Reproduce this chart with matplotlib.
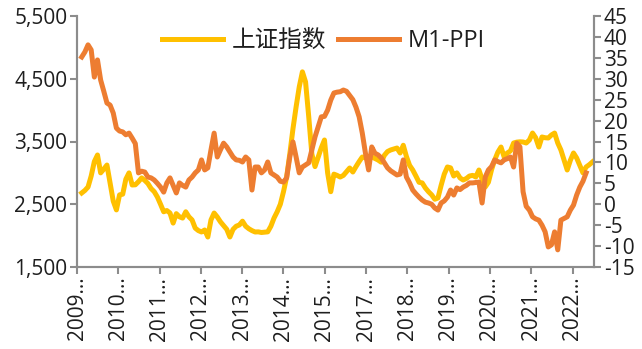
import numpy as np
import matplotlib
matplotlib.use("Agg")
import matplotlib.pyplot as plt

plt.rcParams['font.family'] = ['Open Sans', 'Noto Sans CJK SC', 'DejaVu Sans']
plt.rcParams['axes.unicode_minus'] = False

# monthly data, starting mid-2009
sse = [2680, 2720, 2775, 2950, 3180, 3285, 3000, 3060, 3125, 2840,
       2550, 2410, 2650, 2660, 2900, 3000, 2807, 2810, 2860, 2920,
       2880, 2830, 2750, 2700, 2615, 2500, 2380, 2400, 2360, 2200,
       2350, 2300, 2280, 2380, 2300, 2250, 2120, 2080, 2058, 2090,
       1978, 2250, 2360, 2297, 2220, 2160, 2100, 1978, 2100, 2150,
       2170, 2230, 2150, 2110, 2080, 2058, 2060, 2050, 2055, 2060,
       2150, 2280, 2380, 2500, 2700, 2934, 3300, 3700, 4050, 4370,
       4610, 4450, 3900, 3300, 3100, 3250, 3400, 3524, 3000, 2700,
       2980, 2960, 2934, 2960, 3020, 3078, 3014, 3100, 3180, 3253,
       3240, 3260, 3253, 3230, 3205, 3170, 3280, 3340, 3365, 3380,
       3396, 3317, 3440, 3260, 3120, 3046, 2950, 2850, 2840, 2760,
       2700, 2650, 2580, 2600, 2800, 2980, 3094, 3080, 2950, 3000,
       2920, 2886, 2910, 2950, 2960, 2934, 3046, 2900, 2775, 2850,
       3050, 3205, 3330, 3412, 3253, 3317, 3350, 3476, 3490, 3495,
       3492, 3476, 3524, 3635, 3560, 3412, 3572, 3560, 3556, 3604,
       3635, 3476, 3365, 3205, 3046, 3200, 3317, 3237, 3120, 3000,
       3094, 3130, 3174]

m1_ppi = [35.2, 36.4, 38.1, 36.9, 30.4, 34.5, 29.7, 27.0, 24.2, 23.7,
          21.8, 18.2, 17.5, 17.3, 16.6, 17.0, 15.8, 14.5, 7.5, 7.9,
          7.7, 6.5, 6.3, 5.8, 5.0, 4.1, 2.9, 5.1, 6.3, 4.5,
          2.7, 5.1, 4.5, 4.1, 5.8, 6.5, 7.5, 8.2, 10.6, 8.2,
          8.7, 13.0, 17.0, 11.3, 13.0, 14.6, 13.7, 12.5, 11.3, 10.6,
          10.5, 10.1, 11.3, 10.6, 3.4, 8.9, 8.9, 7.5, 8.2, 10.1,
          7.5, 7.0, 6.5, 5.5, 5.3, 6.3, 11.3, 14.9, 11.3, 7.5,
          8.9, 9.4, 9.9, 13.0, 16.1, 18.5, 20.9, 21.0, 22.5, 24.9,
          26.6, 26.8, 26.9, 27.3, 27.0, 26.0, 25.0, 23.2, 20.9, 17.0,
          12.2, 8.2, 13.7, 12.2, 11.8, 11.1, 9.9, 8.7, 8.0, 7.5,
          7.0, 7.2, 10.6, 6.5, 5.1, 3.4, 2.5, 1.7, 1.0, 0.5,
          0.3, 0.0, -0.9, -1.4, 0.3, 0.8, 1.7, 3.4, 2.2, 3.9,
          3.5, 4.1, 4.5, 5.1, 5.1, 5.2, 5.3, 0.3, 6.5, 8.2,
          9.0, 10.6, 10.2, 9.9, 10.6, 10.9, 11.3, 8.9, 14.6, 13.7,
          3.0, -0.5, -1.4, -3.0, -3.5, -3.8, -5.0, -6.6, -10.2, -9.7,
          -6.6, -10.9, -3.8, -3.4, -3.0, -1.4, -0.2, 2.2, 4.1, 5.5,
          7.5, np.nan, np.nan]

year_labels = ['2009…', '2010…', '2011…', '2012…', '2013…', '2014…', '2015…',
               '2017…', '2018…', '2019…', '2020…', '2021…', '2022…']

yellow = '#FFC000'
orange = '#ED7D31'
spine_col = '#8C8C8C'
text_col = '#1E1E1E'

x = np.arange(len(sse))

fig = plt.figure(figsize=(6.42, 3.49), dpi=100)
ax = fig.add_axes([77/642, 1-267/349, (594-77)/642, (267-16)/349])
ax2 = ax.twinx()

l1, = ax.plot(x, sse, color=yellow, lw=3.6, solid_joinstyle='round', label='上证指数')
l2, = ax2.plot(x, m1_ppi, color=orange, lw=3.6, solid_joinstyle='round', label='M1-PPI')

ax.set_xlim(-1.5, 162.5)
ax.set_ylim(1500, 5500)
ax2.set_ylim(-15, 45)

ax.set_yticks(np.arange(1500, 5501, 1000))
ax.set_yticklabels([f'{v:,}' for v in range(1500, 5501, 1000)])
ax2.set_yticks(np.arange(-15, 46, 5))

ax.set_xticks(-1.5 + 13.1*np.arange(len(year_labels)))
ax.set_xticklabels(year_labels, rotation=90)

for a in (ax, ax2):
    a.spines['top'].set_visible(False)
    for s in ('left', 'right', 'bottom'):
        a.spines[s].set_color(spine_col)
        a.spines[s].set_linewidth(1.5)
    a.tick_params(colors=spine_col, labelcolor=text_col, labelsize=15,
                  width=1.5, length=5, pad=2)

ax.legend([l1, l2], ['上证指数', 'M1-PPI'], loc='center', bbox_to_anchor=(0.476, 0.90),
          ncol=2, frameon=False, fontsize=17, handlelength=2.6,
          handletextpad=0.35, columnspacing=0.5, labelcolor=text_col)

fig.savefig('out.png', dpi=100)
